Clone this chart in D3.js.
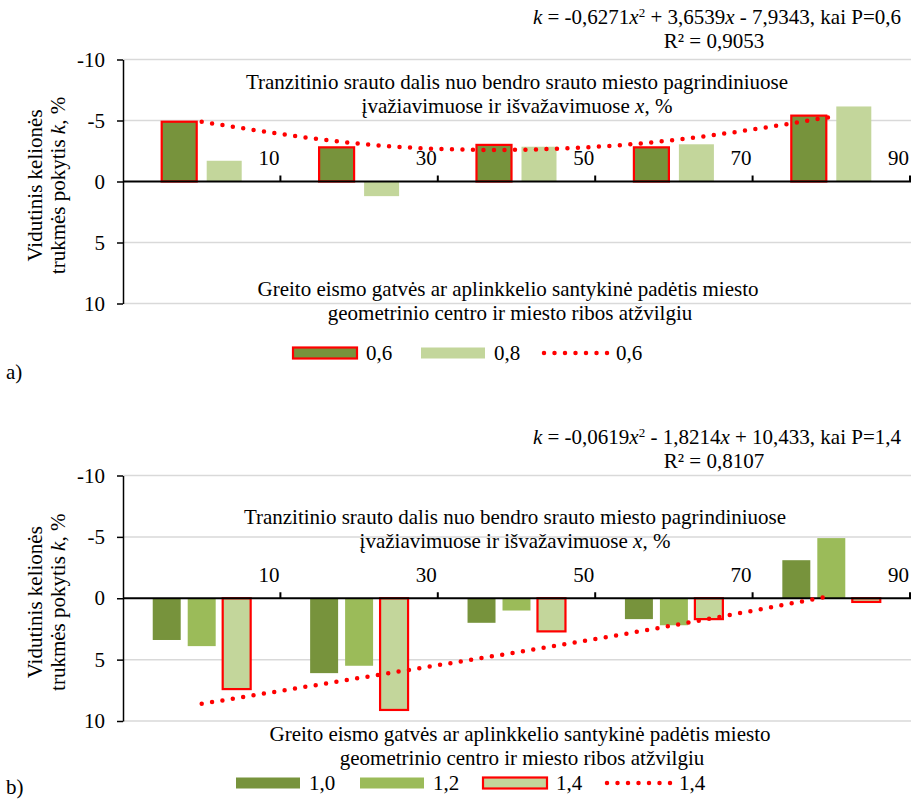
<!DOCTYPE html>
<html lang="lt">
<head>
  <meta charset="UTF-8">
  <title>Kelionės trukmės pokytis</title>
  <script src="https://d3js.org/d3.v7.min.js"></script>
  <style>
    body { margin: 0; background: #fff; }
    svg text { font-family: "Liberation Serif", "Times New Roman", serif; fill: #000; }
  </style>
</head>
<body>
  <svg id="chart"></svg>

  <script>
    // categories on the x axis (share of transit flow, %)
    const categories = ["10", "30", "50", "70", "90"];
    const yTicks = [-10, -5, 0, 5, 10];

    // panel a) series, P = 0,6 and 0,8
    const seriesA = ["0,6", "0,8"];
    const valuesA06 = [-4.9, -2.8, -3.0, -2.8, -5.4];
    const valuesA08 = [-1.7, 1.2, -2.85, -3.05, -6.15];
    const trendA06 = [-4.9, -3.1, -2.6, -3.4, -5.3];

    // panel b) series, P = 1,0 / 1,2 / 1,4
    const seriesB = ["1,0", "1,2", "1,4"];
    const valuesB10 = [3.4, 6.1, 2.0, 1.7, -3.1];
    const valuesB12 = [3.9, 5.5, 1.0, 2.2, -4.9];
    const valuesB14 = [7.4, 9.1, 2.7, 1.7, 0.3];
    const trendB14 = [8.6, 6.5, 4.4, 2.2, -0.2];

    const width = 913, height = 799;
    const dark = "#77933C", mid = "#9BBB59", light = "#C3D69B", red = "#FF0000";

    const svg = d3.select("#chart")
      .attr("width", width)
      .attr("height", height);

    svg.append("rect").attr("width", width).attr("height", height).attr("fill", "#fff");

    const x = d3.scaleBand().domain(categories).range([123, 910]).padding(0);

    function drawPanel(p) {
      const g = svg.append("g");
      const y = d3.scaleLinear().domain([-10, 10]).range([p.top, p.bottom]);
      const y0 = y(0);

      // gridlines
      g.selectAll(".grid")
        .data(yTicks.filter(d => d !== 0))
        .join("line")
        .attr("x1", 123).attr("x2", 911)
        .attr("y1", d => y(d)).attr("y2", d => y(d))
        .attr("stroke", "#D9D9D9").attr("stroke-width", 1.5);

      // y axis
      const yAxis = g.append("g")
        .attr("transform", "translate(123,0)")
        .call(d3.axisLeft(y).tickValues(yTicks).tickSize(6).tickSizeOuter(0)
          .tickPadding(12).tickFormat(d => String(d)));
      yAxis.select(".domain").attr("stroke", "#000").attr("stroke-width", 1.5);
      yAxis.selectAll(".tick line").attr("stroke", "#000").attr("stroke-width", 1.5);
      yAxis.selectAll(".tick text")
        .attr("font-family", "Liberation Serif").attr("font-size", 21).attr("fill", "#000");

      // bars
      const inner = d3.scaleBand().domain(p.series).range([0, x.bandwidth()])
        .paddingInner(p.padInner).paddingOuter(p.padOuter);

      p.series.forEach((s, i) => {
        g.append("g").selectAll("rect")
          .data(p.values[i].map((v, j) => ({ c: categories[j], v })))
          .join("rect")
          .attr("x", d => x(d.c) + inner(s))
          .attr("width", inner.bandwidth())
          .attr("y", d => Math.min(y(d.v), y0))
          .attr("height", d => Math.abs(y(d.v) - y0))
          .attr("fill", p.colors[i])
          .attr("stroke", i === p.outlined ? red : "none")
          .attr("stroke-width", 2.2);
      });

      // zero axis line and category ticks
      g.append("line")
        .attr("x1", 123).attr("x2", 911).attr("y1", y0).attr("y2", y0)
        .attr("stroke", "#000").attr("stroke-width", 2);
      g.selectAll(".ctick")
        .data(categories)
        .join("line")
        .attr("x1", d => x(d) + x.bandwidth()).attr("x2", d => x(d) + x.bandwidth())
        .attr("y1", y0).attr("y2", y0 - 6)
        .attr("stroke", "#000").attr("stroke-width", 2);
      g.selectAll(".clabel")
        .data(categories)
        .join("text")
        .attr("x", d => x(d) + x.bandwidth() - 1)
        .attr("y", y0 - 24).attr("dy", "0.35em")
        .attr("text-anchor", "end").attr("font-size", 21)
        .text(d => d);

      // trendline
      const line = d3.line()
        .x((d, j) => x(categories[j]) + x.bandwidth() / 2)
        .y(d => y(d))
        .curve(d3.curveNatural);
      g.append("path")
        .attr("d", line(p.trend))
        .attr("fill", "none").attr("stroke", red).attr("stroke-width", 4.5)
        .attr("stroke-linecap", "round").attr("stroke-dasharray", "0 10.5");

      // equation
      const eq = g.append("text")
        .attr("x", 901).attr("y", p.eqY).attr("dy", "0.35em")
        .attr("text-anchor", "end").attr("font-size", 21);
      eq.append("tspan").attr("font-style", "italic").text("k");
      eq.append("tspan").text(p.eq[0]);
      eq.append("tspan").attr("font-style", "italic").text("x");
      eq.append("tspan").attr("font-size", 13).attr("dy", -7).text("2");
      eq.append("tspan").attr("dy", 7).text(p.eq[1]);
      eq.append("tspan").attr("font-style", "italic").text("x");
      eq.append("tspan").text(p.eq[2]);
      g.append("text")
        .attr("x", 714).attr("y", p.eqY + 24).attr("dy", "0.35em")
        .attr("text-anchor", "middle").attr("font-size", 21)
        .text(p.r2);

      // axis titles inside plot
      const t1 = g.append("text").attr("x", p.topTitleX).attr("y", p.topTitleY).attr("dy", "0.35em")
        .attr("text-anchor", "middle").attr("font-size", 21);
      t1.text("Tranzitinio srauto dalis nuo bendro srauto miesto pagrindiniuose");
      const t2 = g.append("text").attr("x", p.topTitleX).attr("y", p.topTitleY + 24).attr("dy", "0.35em")
        .attr("text-anchor", "middle").attr("font-size", 21);
      t2.append("tspan").text("įvažiavimuose ir išvažavimuose ");
      t2.append("tspan").attr("font-style", "italic").text("x");
      t2.append("tspan").text(", %");

      g.append("text").attr("x", p.botTitleX).attr("y", p.botTitleY).attr("dy", "0.35em")
        .attr("text-anchor", "middle").attr("font-size", 21)
        .text("Greito eismo gatvės ar aplinkkelio santykinė padėtis miesto");
      g.append("text").attr("x", p.botTitleX + 2).attr("y", p.botTitleY + 24).attr("dy", "0.35em")
        .attr("text-anchor", "middle").attr("font-size", 21)
        .text("geometrinio centro ir miesto ribos atžvilgiu");

      // y title
      const yt = g.append("g").attr("transform", `translate(0,${y0 + 4}) rotate(-90)`);
      yt.append("text").attr("x", 0).attr("y", 42)
        .attr("text-anchor", "middle").attr("font-size", 21)
        .text("Vidutinis kelionės");
      const yt2 = yt.append("text").attr("x", 0).attr("y", 65)
        .attr("text-anchor", "middle").attr("font-size", 21);
      yt2.append("tspan").text("trukmės pokytis ");
      yt2.append("tspan").attr("font-style", "italic").text("k");
      yt2.append("tspan").text(", %");

      // legend
      const lg = g.append("g").attr("transform", `translate(0,${p.legendY})`);
      p.legend.forEach((it, i) => {
        const lx = p.legendX[i];
        if (it.type === "bar") {
          lg.append("rect")
            .attr("x", lx + 1).attr("y", -5.5).attr("width", 64).attr("height", 11)
            .attr("fill", it.fill)
            .attr("stroke", it.outlined ? red : "none").attr("stroke-width", 2.2);
        } else {
          lg.append("line")
            .attr("x1", lx + 2).attr("x2", lx + 68).attr("y1", 0).attr("y2", 0)
            .attr("stroke", red).attr("stroke-width", 4.5)
            .attr("stroke-linecap", "round").attr("stroke-dasharray", "0 10.5");
        }
        lg.append("text").attr("x", lx + 74).attr("y", 0).attr("dy", "0.35em")
          .attr("font-size", 21).text(it.name);
      });

      svg.append("text").attr("x", 6).attr("y", p.tagY).attr("dy", "0.35em")
        .attr("font-size", 21).text(p.tag);
    }

    drawPanel({
      top: 59.5, bottom: 303.5,
      series: seriesA,
      values: [valuesA06, valuesA08],
      colors: [dark, light],
      outlined: 0,
      padInner: 0.222, padOuter: 0.86,
      trend: trendA06,
      eqY: 17, eq: [" = -0,6271", " + 3,6539", " - 7,9343, kai P=0,6"], r2: "R² = 0,9053",
      topTitleX: 517, topTitleY: 82,
      botTitleX: 508, botTitleY: 289,
      legendY: 353,
      legend: [
        { type: "bar", name: seriesA[0], fill: dark, outlined: true },
        { type: "bar", name: seriesA[1], fill: light },
        { type: "line", name: seriesA[0] }
      ],
      legendX: [292, 420, 542],
      tag: "a)", tagY: 372
    });

    drawPanel({
      top: 475.5, bottom: 721,
      series: seriesB,
      values: [valuesB10, valuesB12, valuesB14],
      colors: [dark, mid, light],
      outlined: 2,
      padInner: 0.2, padOuter: 0.85,
      trend: trendB14,
      eqY: 437, eq: [" = -0,0619", " - 1,8214", " + 10,433, kai P=1,4"], r2: "R² = 0,8107",
      topTitleX: 515, topTitleY: 517,
      botTitleX: 520, botTitleY: 734,
      legendY: 783,
      legend: [
        { type: "bar", name: seriesB[0], fill: dark },
        { type: "bar", name: seriesB[1], fill: mid },
        { type: "bar", name: seriesB[2], fill: light, outlined: true },
        { type: "line", name: seriesB[2] }
      ],
      legendX: [235, 359, 482, 605],
      tag: "b)", tagY: 787
    });
  </script>
</body>
</html>
